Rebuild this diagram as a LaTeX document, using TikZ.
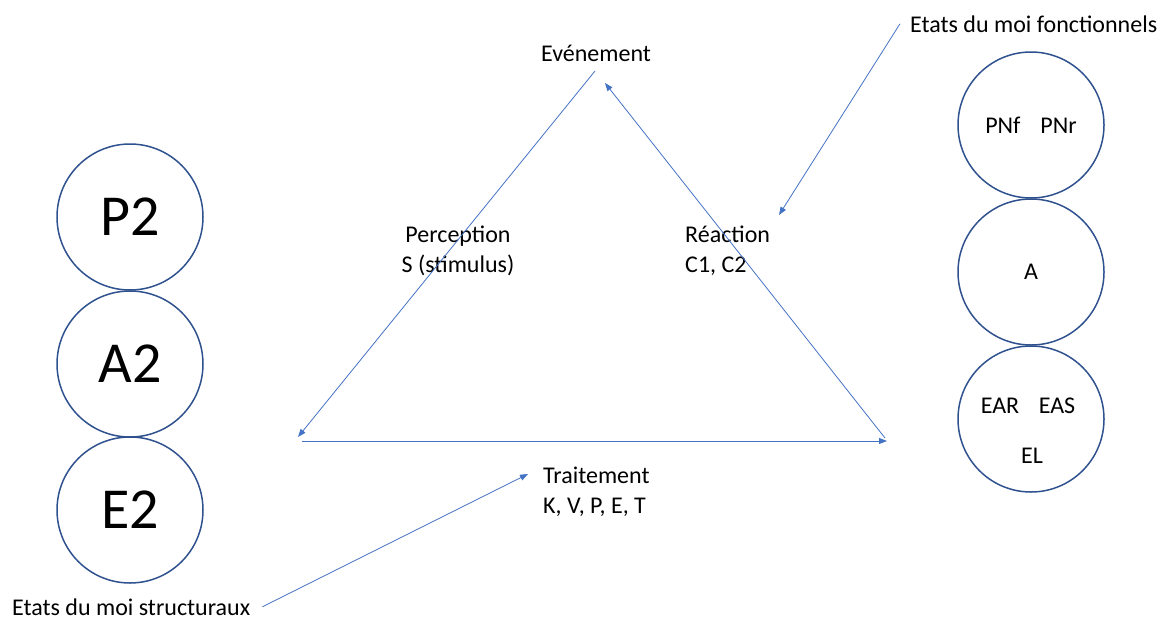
\documentclass[tikz,border=0pt]{standalone}
\usepackage{fontspec}
\setmainfont{Carlito}
\usetikzlibrary{arrows.meta}

\definecolor{ringblue}{HTML}{2F528F}
\definecolor{linkblue}{HTML}{4472C4}

\begin{document}
\begin{tikzpicture}
[
                  x =  1pt,
                  y = -1pt,
                  >= {Triangle[length=8pt,width=6pt]},
        link/.style = { draw=linkblue, line width=0.8pt, -> },
    bigstate/.style = { draw=ringblue, line width=1.5pt, circle, minimum size=146pt, inner sep=0pt, font=\fontsize{58}{70}\selectfont },
  smallstate/.style = { draw=ringblue, line width=1.5pt, circle, minimum size=146pt, inner sep=0pt, font=\fontsize{24}{29.5}\selectfont },
     caption/.style = { draw=none, fill=none, inner sep=0pt, font=\fontsize{24}{29.5}\selectfont }
]

    \useasboundingbox (0,0) rectangle (1162,619);

    % etats structuraux
    \node (P2)  at (130,217)  [bigstate]   {P2};
    \node (A2)  at (130,364)  [bigstate]   {A2};
    \node (E2)  at (130,510)  [bigstate]   {E2};

    % etats fonctionnels
    \node (PN)  at (1031,125) [smallstate] {PNf\hspace{20pt}PNr};
    \node (A)   at (1031,272) [smallstate] {A};
    \node (EA)  at (1031,419) [smallstate] {};
    \node (EAR) at (1000,413) [caption, anchor=base] {EAR};
    \node (EAS) at (1057,413) [caption, anchor=base] {EAS};
    \node (EL)  at (1032,463) [caption, anchor=base] {EL};

    % textes (base = derniere ligne)
    \node (Evenement)    at (596,61)  [caption, anchor=base]                    {Evénement};
    \node (Fonctionnels) at (910,32)  [caption, anchor=base west]               {Etats du moi fonctionnels};
    \node (Perception)   at (458,272) [caption, anchor=base, align=center]      {Perception\\S (stimulus)};
    \node (Reaction)     at (685,272) [caption, anchor=base west, align=left]   {Réaction\\C1, C2};
    \node (Traitement)   at (543,513) [caption, anchor=base west, align=left]   {Traitement\\K, V, P, E, T};
    \node (Structuraux)  at (12,615)  [caption, anchor=base west]               {Etats du moi structuraux};

    % triangle
    \coordinate (apexL)   at (595,71);
    \coordinate (apexR)   at (605,83);
    \coordinate (cornerL) at (298,437);
    \coordinate (baseL)   at (302,441);
    \coordinate (baseR)   at (887,441);
    \coordinate (cornerR) at (885,438);
    \coordinate (tipF)    at (779,215);
    \coordinate (tipS)    at (528,474);

    \draw [link] (apexL) -- (cornerL);
    \draw [link] (baseL) -- (baseR);
    \draw [link] (cornerR) -- (apexR);
    \draw [link] ([xshift=-10pt]Fonctionnels.west) -- (tipF);
    \draw [link] ([xshift=12pt]Structuraux.east) -- (tipS);

\end{tikzpicture}
\end{document}
